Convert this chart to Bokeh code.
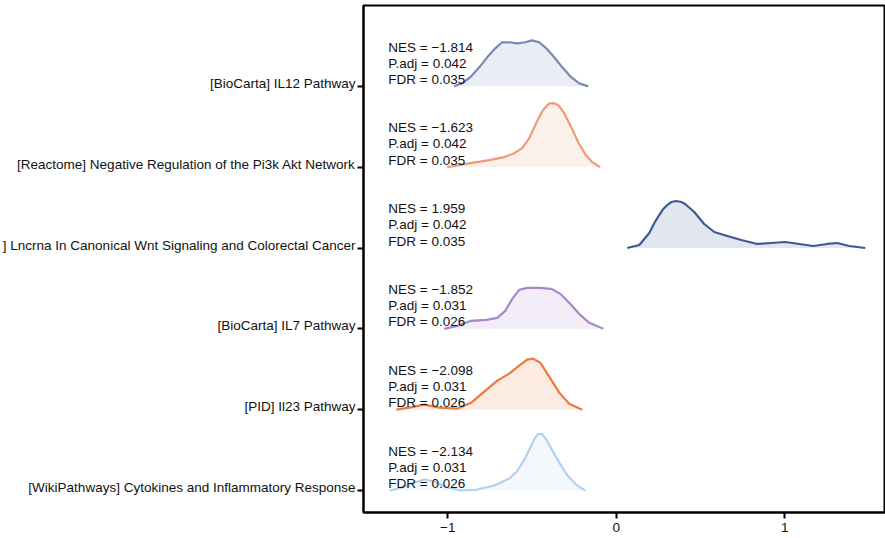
from bokeh.plotting import figure
from bokeh.models import Range1d, FixedTicker, ColumnDataSource
from bokeh.layouts import row
from bokeh.core.properties import value
from bokeh.embed import file_html
from bokeh.resources import INLINE

# ---- data ----
pathways = [
    "[WikiPathways] Cytokines and Inflammatory Response",
    "[PID] Il23 Pathway",
    "[BioCarta] IL7 Pathway",
    "] Lncrna In Canonical Wnt Signaling and Colorectal Cancer",
    "[Reactome] Negative Regulation of the Pi3k Akt Network",
    "[BioCarta] IL12 Pathway",
]
nes = [-2.134, -2.098, -1.852, 1.959, -1.623, -1.814]
padj = [0.031, 0.031, 0.031, 0.042, 0.042, 0.042]
fdr = [0.026, 0.026, 0.026, 0.035, 0.035, 0.035]
colors = ["#B3D1EE", "#EE7A3C", "#A788C9", "#3D5A94", "#EE9A78", "#7A88B6"]

wiki_x = [-1.347, -1.270, -1.199, -1.139, -1.080, -1.003, -0.920, -0.825, -0.724, -0.635,
          -0.590, -0.545, -0.510, -0.485, -0.463, -0.440, -0.415, -0.386, -0.338, -0.291,
          -0.237, -0.184]
wiki_d = [0.0, 0.037, 0.099, 0.136, 0.111, 0.037, 0.0, 0.012, 0.062, 0.149,
          0.235, 0.383, 0.530, 0.640, 0.700, 0.700, 0.630, 0.520, 0.345, 0.190,
          0.070, 0.0]

pid_x = [-1.306, -1.228, -1.139, -1.050, -0.944, -0.861, -0.783, -0.706, -0.635, -0.576,
         -0.528, -0.493, -0.451, -0.398, -0.338, -0.279, -0.202]
pid_d = [0.0, 0.025, 0.062, 0.025, 0.012, 0.087, 0.223, 0.359, 0.446, 0.545,
         0.619, 0.631, 0.582, 0.408, 0.210, 0.074, 0.0]

il7_x = [-1.021, -0.944, -0.861, -0.772, -0.706, -0.659, -0.617, -0.576, -0.528, -0.457,
         -0.386, -0.332, -0.279, -0.220, -0.160, -0.077]
il7_d = [0.0, 0.037, 0.099, 0.111, 0.136, 0.223, 0.371, 0.483, 0.507, 0.507,
         0.495, 0.433, 0.322, 0.186, 0.074, 0.0]

lnc_x = [0.065, 0.137, 0.196, 0.226, 0.255, 0.279, 0.303, 0.326, 0.356, 0.386, 0.409,
         0.463, 0.522, 0.582, 0.659, 0.742, 0.837, 0.920, 1.003, 1.086, 1.169, 1.252,
         1.312, 1.383, 1.478]
lnc_d = [0.0, 0.037, 0.186, 0.309, 0.408, 0.483, 0.532, 0.569, 0.582, 0.569, 0.545,
         0.446, 0.297, 0.198, 0.149, 0.099, 0.050, 0.062, 0.074, 0.050, 0.025, 0.050,
         0.062, 0.025, 0.0]

rea_x = [-1.003, -0.902, -0.754, -0.665, -0.605, -0.558, -0.516, -0.475, -0.439, -0.409,
         -0.398, -0.380, -0.362, -0.344, -0.309, -0.267, -0.226, -0.184, -0.142, -0.095]
rea_d = [0.0, 0.037, 0.087, 0.124, 0.173, 0.235, 0.359, 0.545, 0.693, 0.767,
         0.786, 0.792, 0.786, 0.767, 0.668, 0.495, 0.309, 0.161, 0.062, 0.0]

il12_x = [-0.961, -0.914, -0.861, -0.813, -0.766, -0.718, -0.677, -0.635, -0.588, -0.540,
          -0.499, -0.457, -0.415, -0.368, -0.320, -0.273, -0.220, -0.166]
il12_d = [0.0, 0.037, 0.124, 0.235, 0.359, 0.470, 0.545, 0.545, 0.532, 0.545,
          0.569, 0.545, 0.470, 0.359, 0.235, 0.124, 0.037, 0.0]

curves = [(wiki_x, wiki_d), (pid_x, pid_d), (il7_x, il7_d),
          (lnc_x, lnc_d), (rea_x, rea_d), (il12_x, il12_d)]

x_ticks = [-1, 0, 1]
x_tick_labels = ["\u22121", "0", "1"]

FONT = "Liberation Sans"
FS = "13.5px"
TXT = "#111111"
PX_PER_UNIT = 80.8

y_range = Range1d(0.728, 7.0)

# ---- left panel holding the pathway names ----
LEFT_W = 357
left = figure(width=LEFT_W, height=538, output_backend="svg", toolbar_location=None,
              x_range=Range1d(0, LEFT_W), y_range=y_range,
              x_axis_type=None, y_axis_type=None,
              min_border_left=0, min_border_right=0, min_border_top=5, min_border_bottom=26)
left.grid.visible = False
left.outline_line_color = None
lab_src = ColumnDataSource(dict(x=[LEFT_W - 2] * 6,
                                y=[k + 1 + 3.0 / PX_PER_UNIT for k in range(6)],
                                text=pathways))
left.text(x="x", y="y", text="text", source=lab_src, text_align="right",
          text_baseline="middle", text_font=value(FONT), text_font_size=FS,
          text_color=TXT)

# ---- main ridge plot ----
p = figure(width=885 - LEFT_W, height=538, output_backend="svg", toolbar_location=None,
           x_range=Range1d(-1.5, 1.598), y_range=y_range,
           min_border_left=6, min_border_right=0, min_border_top=5, min_border_bottom=26)
p.background_fill_color = "white"
p.border_fill_color = "white"
p.grid.visible = False
p.outline_line_color = "black"
p.outline_line_width = 2

for i, ((xs, ds), col) in enumerate(zip(curves, colors)):
    base = i + 1
    ys = [base + d for d in ds]
    p.varea(x=xs, y1=[base] * len(xs), y2=ys, fill_color=col, fill_alpha=0.15)
    p.line(x=xs, y=ys, line_color=col, line_width=2.2, line_join="round")

def fmt(v):
    return f"{v:.3f}".replace("-", "\u2212")

src = ColumnDataSource(dict(
    x=[-1.353] * 6,
    y_nes=[k + 1 + 39.3 / PX_PER_UNIT for k in range(6)],
    y_padj=[k + 1 + 23.3 / PX_PER_UNIT for k in range(6)],
    y_fdr=[k + 1 + 7.0 / PX_PER_UNIT for k in range(6)],
    t_nes=[f"NES = {fmt(v)}" for v in nes],
    t_padj=[f"P.adj = {v:.3f}" for v in padj],
    t_fdr=[f"FDR = {v:.3f}" for v in fdr],
))
for yk, tk in (("y_nes", "t_nes"), ("y_padj", "t_padj"), ("y_fdr", "t_fdr")):
    p.text(x="x", y=yk, text=tk, source=src, text_font=value(FONT),
           text_font_size=FS, text_color=TXT,
           text_align="left", text_baseline="middle")

p.yaxis.ticker = FixedTicker(ticks=[1, 2, 3, 4, 5, 6])
p.yaxis.major_label_overrides = {k: "" for k in [1, 2, 3, 4, 5, 6]}
p.yaxis.major_label_standoff = 0
p.yaxis.major_label_text_font_size = "1px"
p.yaxis.axis_line_width = 2
p.yaxis.axis_line_color = "black"
p.yaxis.major_tick_out = 6
p.yaxis.major_tick_in = 0
p.yaxis.major_tick_line_width = 2
p.yaxis.minor_tick_line_color = None

p.xaxis.ticker = FixedTicker(ticks=x_ticks)
p.xaxis.major_label_overrides = dict(zip(x_ticks, x_tick_labels))
p.xaxis.axis_line_width = 2
p.xaxis.axis_line_color = "black"
p.xaxis.major_tick_out = 6
p.xaxis.major_tick_in = 0
p.xaxis.major_tick_line_width = 2
p.xaxis.minor_tick_line_color = None
p.xaxis.major_label_text_font = FONT
p.xaxis.major_label_text_font_size = FS
p.xaxis.major_label_text_color = TXT
p.xaxis.major_label_standoff = 4

layout = row(left, p, spacing=0)
open("out.html", "w").write(file_html(layout, INLINE))
